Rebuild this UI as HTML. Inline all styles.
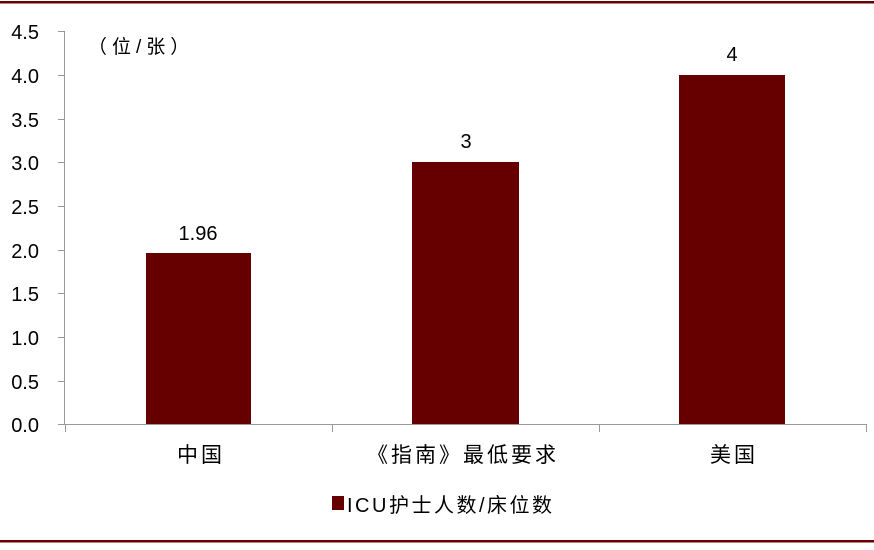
<!DOCTYPE html>
<html><head><meta charset="utf-8"><style>
body{margin:0;background:#fff;}
svg text{font-family:"Liberation Sans","Noto Sans CJK SC",sans-serif;}
</style></head><body>
<svg width="874" height="545" xmlns="http://www.w3.org/2000/svg">
<rect x="0" y="1" width="874" height="2.5" fill="#6b0000"/>
<rect x="0" y="540" width="874" height="2.5" fill="#6b0000"/>
<g stroke="#999" stroke-width="1" fill="none">
<line x1="64.5" y1="31" x2="64.5" y2="424"/>
<line x1="64" y1="424.5" x2="866" y2="424.5"/>
<line x1="58" y1="31.5" x2="64" y2="31.5"/>
<line x1="58" y1="75.5" x2="64" y2="75.5"/>
<line x1="58" y1="119.5" x2="64" y2="119.5"/>
<line x1="58" y1="162.5" x2="64" y2="162.5"/>
<line x1="58" y1="206.5" x2="64" y2="206.5"/>
<line x1="58" y1="250.5" x2="64" y2="250.5"/>
<line x1="58" y1="293.5" x2="64" y2="293.5"/>
<line x1="58" y1="337.5" x2="64" y2="337.5"/>
<line x1="58" y1="381.5" x2="64" y2="381.5"/>
<line x1="58" y1="424.5" x2="64" y2="424.5"/>
<line x1="65.5" y1="424" x2="65.5" y2="432"/>
<line x1="332.5" y1="424" x2="332.5" y2="432"/>
<line x1="599.5" y1="424" x2="599.5" y2="432"/>
<line x1="866.5" y1="424" x2="866.5" y2="432"/>
</g>
<g font-size="20" fill="#000" text-anchor="end">
<text x="39" y="39">4.5</text><text x="39" y="83">4.0</text><text x="39" y="127">3.5</text>
<text x="39" y="170">3.0</text><text x="39" y="214">2.5</text><text x="39" y="258">2.0</text>
<text x="39" y="301">1.5</text><text x="39" y="345">1.0</text><text x="39" y="389">0.5</text>
<text x="39" y="432">0.0</text>
</g>
<text x="88" y="53" font-size="19" letter-spacing="5">（位/张）</text>
<rect x="146" y="253" width="105" height="171" fill="#660000"/>
<rect x="412" y="162" width="107" height="262" fill="#660000"/>
<rect x="679" y="75" width="106" height="349" fill="#660000"/>
<g font-size="20" text-anchor="middle">
<text x="198" y="240">1.96</text><text x="466" y="148">3</text><text x="732" y="61">4</text>
</g>
<g font-size="21" letter-spacing="3">
<text x="177" y="462">中国</text><text x="367" y="462">《指南》最低要求</text><text x="710" y="462">美国</text>
</g>
<rect x="332" y="496" width="12" height="14" fill="#660000"/>
<text x="347" y="512" font-size="20" letter-spacing="2.5">ICU护士人数/床位数</text>
</svg>
</body></html>
